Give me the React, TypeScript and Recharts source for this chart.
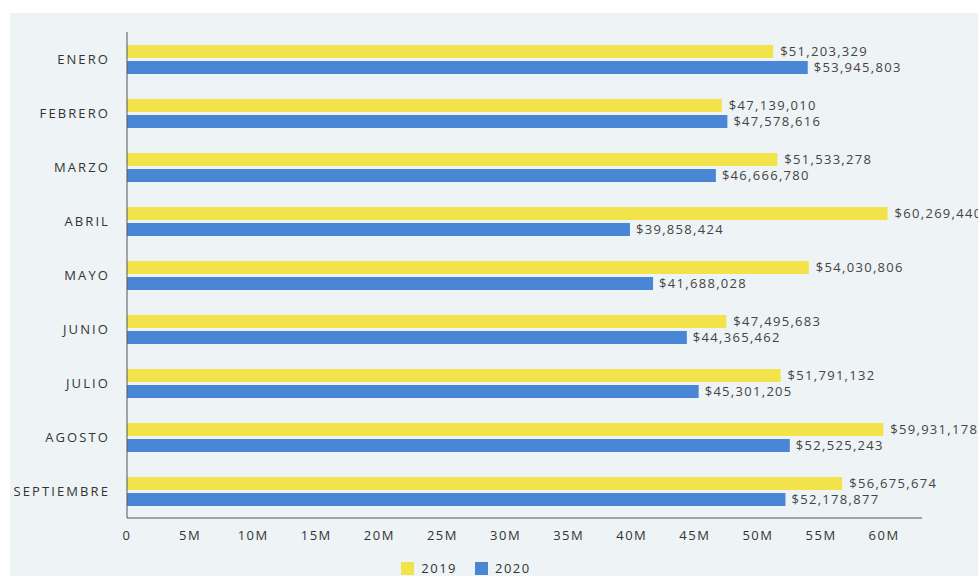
import React from 'react'
import {
  BarChart,
  Bar,
  XAxis,
  YAxis,
  Legend,
  LabelList,
} from 'recharts'

const months = ['ENERO', 'FEBRERO', 'MARZO', 'ABRIL', 'MAYO', 'JUNIO', 'JULIO', 'AGOSTO', 'SEPTIEMBRE']
const sales2019 = [51203329, 47139010, 51533278, 60269440, 54030806, 47495683, 51791132, 59931178, 56675674]
const sales2020 = [53945803, 47578616, 46666780, 39858424, 41688028, 44365462, 45301205, 52525243, 52178877]
const xTicks = [0, 5e6, 10e6, 15e6, 20e6, 25e6, 30e6, 35e6, 40e6, 45e6, 50e6, 55e6, 60e6]

const data = months.map((m, i) => ({ month: m, y2019: sales2019[i], y2020: sales2020[i] }))

const money = (v: number) => '$' + v.toLocaleString('en-US')
const millions = (v: number) => (v === 0 ? '0' : v / 1e6 + 'M')

const font = '"Open Sans", sans-serif'
const labelStyle = { fill: '#444', fontSize: 13, fontFamily: font, letterSpacing: 1.3 }

export default function App() {
  return (
    <div style={{ position: 'absolute', left: 10, top: 13, width: 968, height: 563, background: '#eef3f5', fontFamily: font }}>
      <BarChart
        width={968}
        height={563}
        data={data}
        layout="vertical"
        margin={{ top: 19, right: 56, left: 0, bottom: 0 }}
        barSize={13}
        barGap={3}
      >
        <XAxis
          type="number"
          domain={[0, 63000000]}
          ticks={xTicks}
          tickFormatter={millions}
          tick={{ fill: '#333', fontSize: 13, fontFamily: font, letterSpacing: 1.5 }}
          tickLine={false}
          tickMargin={7}
          axisLine={{ stroke: '#555' }}
          height={36}
        />
        <YAxis
          type="category"
          dataKey="month"
          width={117}
          tick={{ fill: '#333', fontSize: 13, fontFamily: font, letterSpacing: 2.1 }}
          tickLine={false}
          tickMargin={11}
          axisLine={{ stroke: '#555' }}
        />
        <Legend
          verticalAlign="bottom"
          iconType="square"
          iconSize={13}
          wrapperStyle={{ left: 0, width: 930, bottom: -2 }}
          formatter={(v) => (
            <span style={{ color: '#333', fontSize: 13, letterSpacing: 1.5, marginLeft: 3, marginRight: 8 }}>{v}</span>
          )}
        />
        <Bar dataKey="y2019" name="2019" fill="#f3e34a" isAnimationActive={false}>
          <LabelList dataKey="y2019" position="right" offset={7} formatter={money} style={labelStyle} />
        </Bar>
        <Bar dataKey="y2020" name="2020" fill="#4a86d6" isAnimationActive={false}>
          <LabelList dataKey="y2020" position="right" offset={6} formatter={money} style={labelStyle} />
        </Bar>
      </BarChart>
    </div>
  )
}
